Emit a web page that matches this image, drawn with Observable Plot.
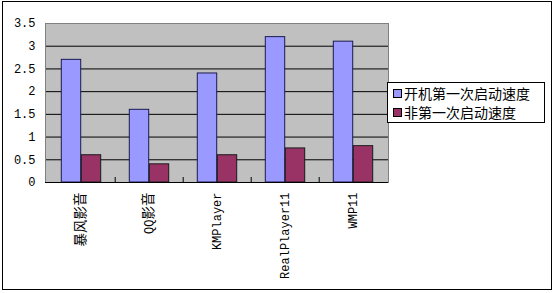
<!DOCTYPE html>
<html>
<head>
<meta charset="utf-8">
<script src="https://cdn.jsdelivr.net/npm/d3@7"></script>
<script src="https://cdn.jsdelivr.net/npm/@observablehq/plot@0.6"></script>
<style>
  html, body { margin: 0; padding: 0; background: #fff; }
  #wrap { position: relative; width: 555px; height: 293px; overflow: hidden; }
  #border { position: absolute; left: 2px; top: 1px; width: 550px; height: 289px; border: 1px solid #000; box-sizing: border-box; pointer-events: none; }
  #legend { position: absolute; left: 387px; top: 82px; width: 158px; height: 41px; border: 1px solid #000; box-sizing: border-box; background: #fff;
    font-family: "Noto Sans CJK SC", sans-serif; font-size: 14px; line-height: 19px; padding-top: 1px; }
  .item { display: flex; align-items: center; padding-left: 5px; }
  .sw { width: 7px; height: 7px; border: 1px solid #000; margin-right: 2px; }
  svg { position: absolute; left: 0; top: 0; }
</style>
</head>
<body>
<div id="wrap"></div>
<script>
const categories = ["暴风影音", "QQ影音", "KMPlayer", "RealPlayer11", "WMP11"];
const seriesNames = ["开机第一次启动速度", "非第一次启动速度"];
const firstStart = [2.7, 1.6, 2.4, 3.2, 3.1];
const laterStart = [0.6, 0.4, 0.6, 0.75, 0.8];
const yTicks = [0, 0.5, 1, 1.5, 2, 2.5, 3, 3.5];
const colors = ["#9999ff", "#993366"];

const W = 555, H = 293;
const mL = 45, mR = 167, mT = 23, mB = 111;
const step = (W - mL - mR) / categories.length;
const barW = 20;
const outer = (step - 2 * barW) / 2;

const rowsA = categories.map((c, i) => ({cat: c, v: firstStart[i]}));
const rowsB = categories.map((c, i) => ({cat: c, v: laterStart[i]}));
const bounds = categories.map((c, i) => ({cat: c}));

const font = '"Liberation Mono", "Noto Sans CJK SC", monospace';

const chart = Plot.plot({
  width: W, height: H,
  marginLeft: mL, marginRight: mR, marginTop: mT, marginBottom: mB,
  style: {fontFamily: font, fontSize: "12px", background: "transparent", color: "#000"},
  x: {domain: categories, padding: 0, label: null, tickSize: 0, tickRotate: -90, tickPadding: 10},
  y: {domain: [0, 3.5], ticks: yTicks, label: null, tickSize: 0, tickPadding: 10, tickFormat: d => String(d)},
  marks: [
    Plot.frame({fill: "#c0c0c0", stroke: "none"}),
    Plot.ruleY(yTicks.slice(1, -1), {stroke: "#000", strokeWidth: 1}),
    Plot.barY(rowsA, {x: "cat", y: "v", fill: colors[0], stroke: "#1a1a50", strokeWidth: 1, insetLeft: outer, insetRight: outer + barW}),
    Plot.barY(rowsB, {x: "cat", y: "v", fill: colors[1], stroke: "#1a1a1a", strokeWidth: 1, insetLeft: outer + barW, insetRight: outer}),
    Plot.frame({stroke: "#808080"}),
    Plot.ruleY([0], {stroke: "#000"}),
    Plot.ruleX(bounds.slice(1), {x: "cat", y1: 0, y2: 0, dx: -step / 2, insetTop: -5, stroke: "#000"})
  ]
});

// enlarge CJK glyphs in the x tick labels (they render larger than the Latin ones in the original)
chart.querySelectorAll("text").forEach(t => {
  const s = t.textContent;
  if (!categories.includes(s) || !/[\u4e00-\u9fff]/.test(s)) return;
  t.textContent = "";
  const parts = s.match(/[\u4e00-\u9fff]+|[^\u4e00-\u9fff]+/g);
  parts.forEach(p => {
    const ts = document.createElementNS("http://www.w3.org/2000/svg", "tspan");
    if (/[\u4e00-\u9fff]/.test(p)) ts.setAttribute("font-size", "13.5px");
    ts.textContent = p;
    t.appendChild(ts);
  });
});

const wrap = document.getElementById("wrap");
wrap.appendChild(chart);
const border = document.createElement("div");
border.id = "border";
wrap.appendChild(border);
const legend = document.createElement("div");
legend.id = "legend";
seriesNames.forEach((n, i) => {
  const it = document.createElement("div");
  it.className = "item";
  const sw = document.createElement("span");
  sw.className = "sw";
  sw.style.background = colors[i];
  const t = document.createElement("span");
  t.textContent = n;
  it.appendChild(sw); it.appendChild(t);
  legend.appendChild(it);
});
wrap.appendChild(legend);
</script>
</body>
</html>
